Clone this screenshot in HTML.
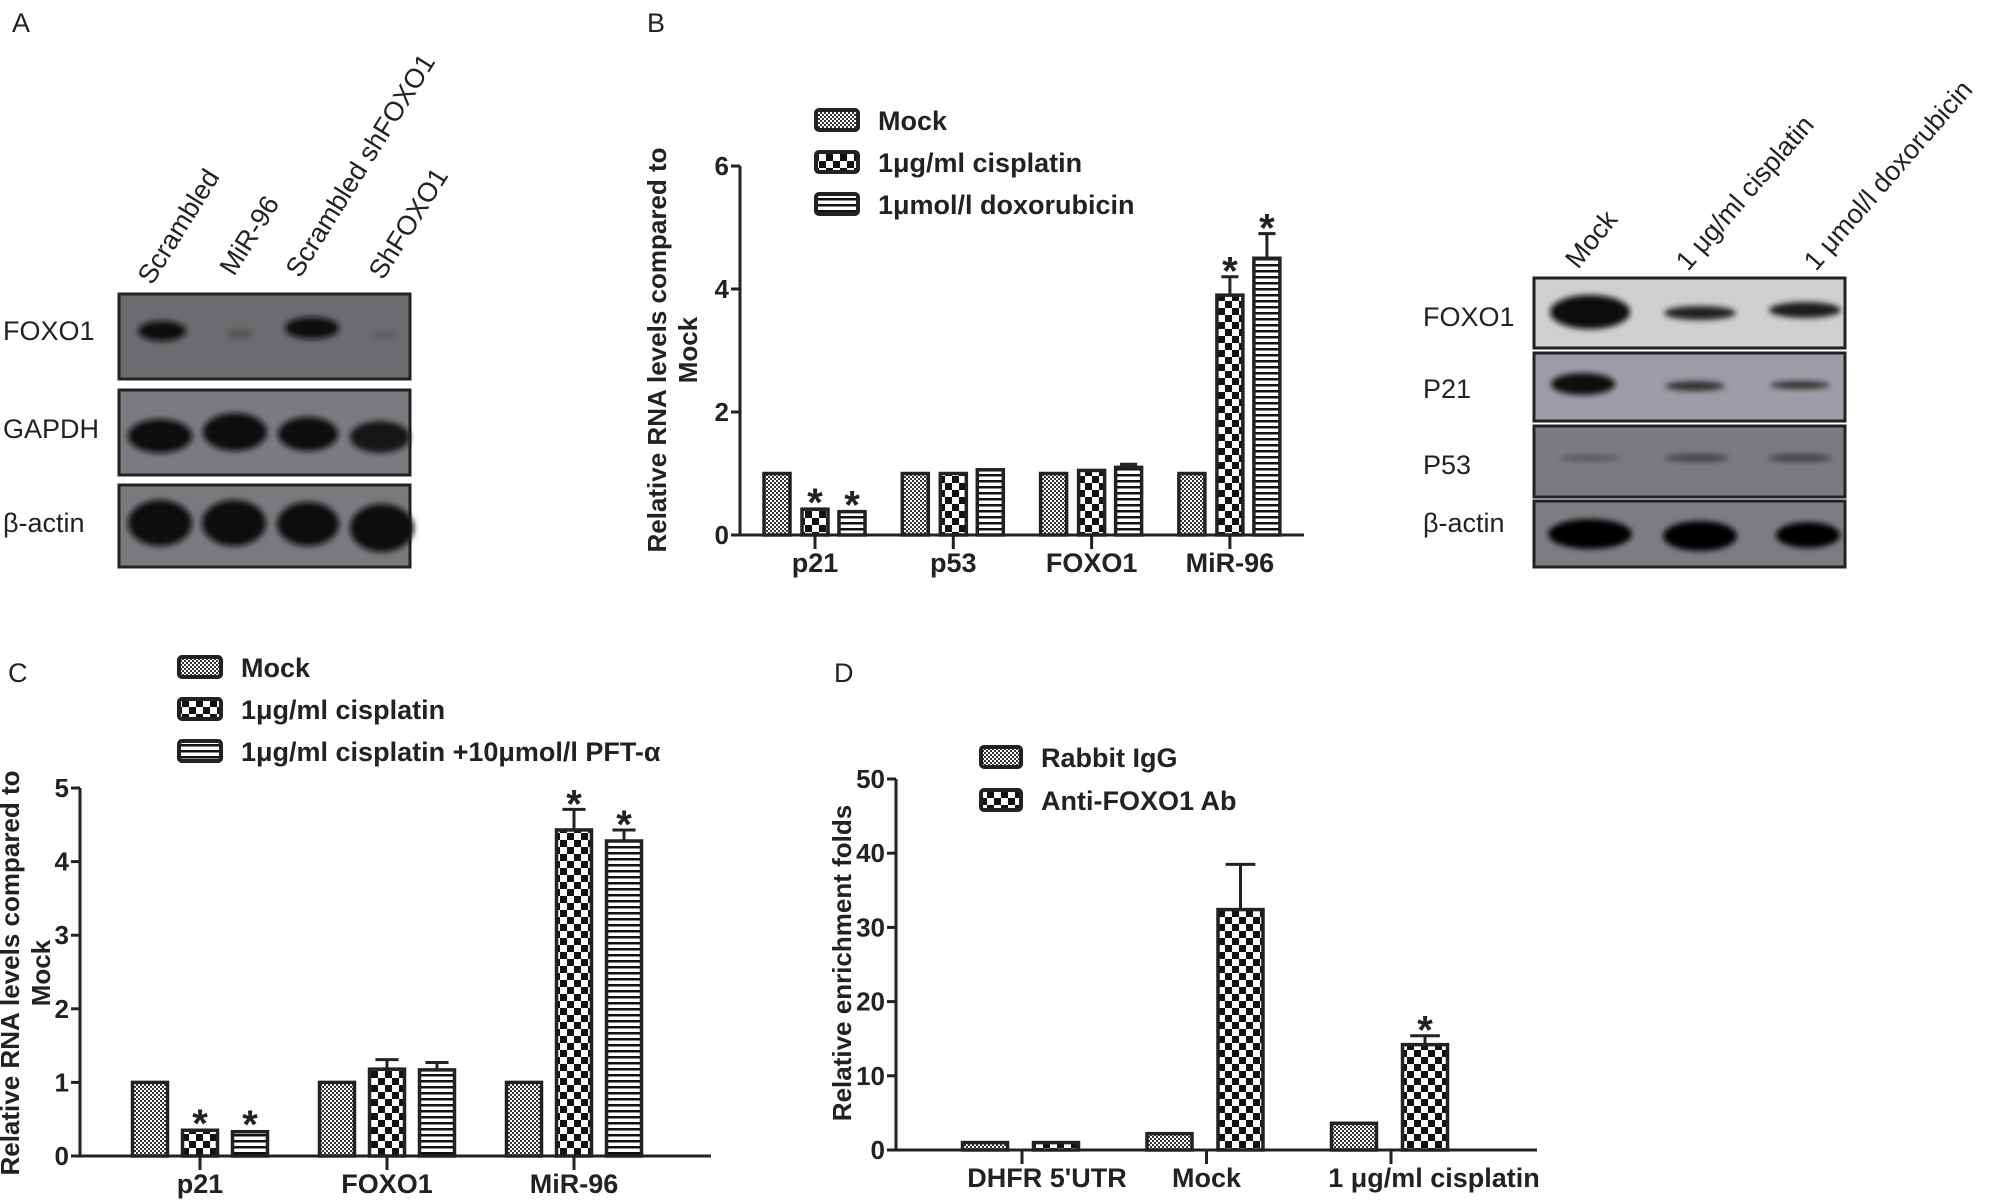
<!DOCTYPE html>
<html><head><meta charset="utf-8"><style>
html,body{margin:0;padding:0;background:#fff;}
svg{display:block;font-family:"Liberation Sans",Arial,sans-serif;}
.t{font-weight:bold;fill:#222;}
.n{fill:#222;font-size:27px;}
</style></head><body>
<svg id="fig" width="2008" height="1204" viewBox="0 0 2008 1204">
<defs>
<pattern id="pMock" width="4" height="4" patternUnits="userSpaceOnUse"><rect width="4" height="4" fill="#fff"/><rect width="2" height="2" fill="#333"/><rect x="2" y="2" width="2" height="2" fill="#333"/></pattern>
<pattern id="pCis" width="14" height="14" patternUnits="userSpaceOnUse"><rect width="14" height="14" fill="#fff"/><rect width="7" height="7" fill="#111"/><rect x="7" y="7" width="7" height="7" fill="#111"/></pattern>
<pattern id="pStr" width="6" height="6" patternUnits="userSpaceOnUse"><rect width="6" height="6" fill="#fff"/><rect width="6" height="2.5" fill="#111"/></pattern>
<filter id="blur2" x="-50%" y="-50%" width="200%" height="200%"><feGaussianBlur stdDeviation="3"/></filter>
</defs>

<!-- Panel A -->
<text x="12" y="32" class="n">A</text>
<g>
<text class="n" font-size="29" transform="translate(152,286) rotate(-58)">Scrambled</text>
<text class="n" font-size="29" transform="translate(234,277) rotate(-58)">MiR-96</text>
<text class="n" font-size="29" transform="translate(300,279) rotate(-58)">Scrambled shFOXO1</text>
<text class="n" font-size="29" transform="translate(383,281) rotate(-58)">ShFOXO1</text>
</g>
<g>
<rect x="119" y="294" width="291" height="85" fill="#6c6c70" stroke="#222" stroke-width="3"/>
<rect x="119" y="390" width="291" height="85" fill="#7a7b80" stroke="#222" stroke-width="3"/>
<rect x="119" y="485" width="291" height="82" fill="#787a7e" stroke="#222" stroke-width="3"/>
<ellipse cx="162" cy="331" rx="24" ry="10" fill="#111" filter="url(#blur2)"/>
<ellipse cx="240" cy="334" rx="14" ry="5" fill="#555" filter="url(#blur2)"/>
<ellipse cx="312" cy="328" rx="27" ry="11" fill="#111" filter="url(#blur2)"/>
<ellipse cx="386" cy="335" rx="14" ry="4" fill="#5e5e62" filter="url(#blur2)"/>
<ellipse cx="160" cy="436" rx="32" ry="17" fill="#111" filter="url(#blur2)"/>
<ellipse cx="235" cy="432" rx="32" ry="19" fill="#111" filter="url(#blur2)"/>
<ellipse cx="308" cy="434" rx="30" ry="17" fill="#111" filter="url(#blur2)"/>
<ellipse cx="380" cy="437" rx="30" ry="16" fill="#151515" filter="url(#blur2)"/>
<ellipse cx="160" cy="523" rx="32" ry="23" fill="#0a0a0a" filter="url(#blur2)"/>
<ellipse cx="234" cy="523" rx="32" ry="23" fill="#0a0a0a" filter="url(#blur2)"/>
<ellipse cx="308" cy="524" rx="31" ry="22" fill="#0a0a0a" filter="url(#blur2)"/>
<ellipse cx="382" cy="528" rx="32" ry="24" fill="#0a0a0a" filter="url(#blur2)"/>
</g>
<text x="3" y="340" class="n">FOXO1</text>
<text x="3" y="438" class="n">GAPDH</text>
<text x="3" y="532" class="n">β-actin</text>

<!-- Panel B blot -->
<g>
<text class="n" transform="translate(1578,270) rotate(-51)">Mock</text>
<text class="n" transform="translate(1688,272) rotate(-49)">1 μg/ml cisplatin</text>
<text class="n" transform="translate(1816,272) rotate(-49)">1 μmol/l doxorubicin</text>
</g>
<g>
<rect x="1534" y="278" width="311" height="70" fill="#cfcfcf" stroke="#222" stroke-width="3"/>
<rect x="1534" y="353" width="311" height="68" fill="#9c9da6" stroke="#222" stroke-width="3"/>
<rect x="1534" y="426" width="311" height="71" fill="#7a7b80" stroke="#222" stroke-width="3"/>
<rect x="1534" y="501" width="311" height="66" fill="#7c7d82" stroke="#222" stroke-width="3"/>
<ellipse cx="1590" cy="312" rx="40" ry="17" fill="#0a0a0a" filter="url(#blur2)"/>
<ellipse cx="1700" cy="313" rx="36" ry="7" fill="#222" filter="url(#blur2)"/>
<ellipse cx="1805" cy="310" rx="36" ry="8" fill="#1a1a1a" filter="url(#blur2)"/>
<ellipse cx="1583" cy="384" rx="32" ry="11" fill="#111" filter="url(#blur2)"/>
<ellipse cx="1695" cy="386" rx="30" ry="5" fill="#333" filter="url(#blur2)"/>
<ellipse cx="1800" cy="385" rx="30" ry="4" fill="#333" filter="url(#blur2)"/>
<ellipse cx="1590" cy="458" rx="30" ry="3" fill="#555" filter="url(#blur2)"/>
<ellipse cx="1697" cy="458" rx="32" ry="4" fill="#444" filter="url(#blur2)"/>
<ellipse cx="1800" cy="458" rx="32" ry="4" fill="#444" filter="url(#blur2)"/>
<ellipse cx="1590" cy="534" rx="42" ry="15" fill="#050505" filter="url(#blur2)"/>
<ellipse cx="1700" cy="536" rx="37" ry="15" fill="#050505" filter="url(#blur2)"/>
<ellipse cx="1808" cy="535" rx="32" ry="13" fill="#050505" filter="url(#blur2)"/>
</g>
<text x="1423" y="326" class="n">FOXO1</text>
<text x="1423" y="398" class="n">P21</text>
<text x="1423" y="474" class="n">P53</text>
<text x="1423" y="532" class="n">β-actin</text>

<text x="647" y="32" class="n">B</text>
<text x="8" y="682" class="n">C</text>
<text x="834" y="682" class="n">D</text>
<g id="charts"></g>
</svg>
<script>
// Panel B data
const bCats = ["p21","p53","FOXO1","MiR-96"];
const bMock = [1.0, 1.0, 1.0, 1.0];
const bMockErr = [0.02, 0.02, 0.02, 0.02];
const bCis = [0.42, 1.0, 1.05, 3.9];
const bCisErr = [0.02, 0.02, 0.02, 0.3];
const bDox = [0.38, 1.06, 1.1, 4.5];
const bDoxErr = [0.02, 0.02, 0.05, 0.4];
const bStar = [[false,true,true],[false,false,false],[false,false,false],[false,true,true]];
const bTicks = [0,2,4,6];
const bLegend = ["Mock","1μg/ml cisplatin","1μmol/l doxorubicin"];
// Panel C data
const cCats = ["p21","FOXO1","MiR-96"];
const cMock = [1.0, 1.0, 1.0];
const cMockErr = [0.02, 0.02, 0.02];
const cCis = [0.35, 1.18, 4.43];
const cCisErr = [0.02, 0.13, 0.28];
const cPft = [0.33, 1.17, 4.28];
const cPftErr = [0.02, 0.1, 0.15];
const cStar = [[false,true,true],[false,false,false],[false,true,true]];
const cTicks = [0,1,2,3,4,5];
const cLegend = ["Mock","1μg/ml cisplatin","1μg/ml cisplatin +10μmol/l PFT-α"];
// Panel D data
const dCats = ["DHFR 5'UTR","Mock","1 μg/ml cisplatin"];
const dIgg = [1.0, 2.2, 3.6];
const dIggErr = [0.1, 0.3, 0.4];
const dAnti = [1.0, 32.4, 14.2];
const dAntiErr = [0.1, 6.1, 1.2];
const dStar = [[false,false],[false,false],[false,true]];
const dTicks = [0,10,20,30,40,50];
const dLegend = ["Rabbit IgG","Anti-FOXO1 Ab"];

const NS="http://www.w3.org/2000/svg";
const root=document.getElementById('charts');
function mk(tag,attrs,parent,txt){const e=document.createElementNS(NS,tag);for(const k in attrs)e.setAttribute(k,attrs[k]);if(txt!==undefined)e.textContent=txt;(parent||root).appendChild(e);return e;}

function chart(o){
  const g=mk('g',{},o.parent);
  
  
  const y=v=>o.y0-(v-o.ymin)/(o.ymax-o.ymin)*(o.y0-o.ytop);
  const gx=i=>o.gx0+i*o.gdx;
  const ya=mk('line',{x1:o.x0,y1:o.y0,x2:o.x0,y2:o.ytop,stroke:'#222','stroke-width':3},g);
  
  
  const xa=mk('line',{x1:o.x0-9,y1:o.y0,x2:o.xend,y2:o.y0,stroke:'#222','stroke-width':3},g);
  
  
  o.ticks.forEach(t=>{
    mk('line',{x1:o.x0-9,y1:y(t),x2:o.x0,y2:y(t),stroke:'#222','stroke-width':3},g);
    const tl=mk('text',{x:o.x0-11,y:y(t)+9,'text-anchor':'end',class:'t','font-size':26},g,String(t));
    
    
  });
  o.cats.forEach((c,i)=>{
    mk('line',{x1:gx(i),y1:o.y0,x2:gx(i),y2:o.y0+14,stroke:'#222','stroke-width':3},g);
    const cl=mk('text',{x:gx(i)+(o.catShift?o.catShift[i]:0),y:o.labY,'text-anchor':'middle',class:'t','font-size':27},g,c);
    
    
    o.series.forEach((s,j)=>{
      const v=s.vals[i], e=s.errs[i];
      const cx=gx(i)+o.offs[j];
      const top=y(v);
      if(e/(o.ymax-o.ymin)>0.008){
        mk('line',{x1:cx,y1:top,x2:cx,y2:y(v+e),stroke:'#222','stroke-width':3},g);
        mk('line',{x1:cx-o.bw*0.33,y1:y(v+e),x2:cx+o.bw*0.33,y2:y(v+e),stroke:'#222','stroke-width':3},g);
      }
      const r=mk('rect',{x:cx-o.bw/2,y:top,width:o.bw,height:o.y0-top,fill:'url(#'+s.pat+')',stroke:'#222','stroke-width':3.5},g);
      
      
      if(o.stars[i][j]){
        const st=mk('text',{x:cx,y:y(v+e)+8,'text-anchor':'middle',class:'t','font-size':40},g,'*');
        
        
      }
    });
  });
  const yl=mk('text',{transform:'translate('+o.ylx+','+o.ylc+') rotate(-90)','text-anchor':'middle',class:'t','font-size':26},g,o.ylabel[0]);
  
  
  if(o.ylabel[1]){
    const yl2=mk('text',{transform:'translate('+(o.ylx+31)+','+o.ylc+') rotate(-90)','text-anchor':'middle',class:'t','font-size':26},g,o.ylabel[1]);
    
    
  }
  o.legend.forEach((l,j)=>{
    const ly=o.ly0+j*o.ldy;
    const lg=mk('g',{},g);
    
    
    mk('rect',{x:o.lx,y:ly-10,width:o.lw,height:20,rx:3,fill:'url(#'+o.series[j].pat+')',stroke:'#222','stroke-width':4},lg);
    mk('text',{x:o.lx+o.lw+20,y:ly+10,class:'t','font-size':27},lg,l);
  });
  return g;
}

chart({name:'chart-b',cats:bCats,series:[{vals:bMock,errs:bMockErr,pat:'pMock'},{vals:bCis,errs:bCisErr,pat:'pCis'},{vals:bDox,errs:bDoxErr,pat:'pStr'}],
 stars:bStar,ticks:bTicks,ymin:0,ymax:6,x0:740,y0:535,ytop:166,xend:1304,gx0:815,gdx:138.3,offs:[-38,0,37],bw:26,labY:572,
 ylabel:['Relative RNA levels compared to','Mock'],ylx:666,ylc:350,legend:bLegend,lx:816,lw:42,ly0:120,ldy:42});

chart({name:'chart-c',cats:cCats,series:[{vals:cMock,errs:cMockErr,pat:'pMock'},{vals:cCis,errs:cCisErr,pat:'pCis'},{vals:cPft,errs:cPftErr,pat:'pStr'}],
 stars:cStar,ticks:cTicks,ymin:0,ymax:5,x0:80,y0:1156,ytop:788,xend:711,gx0:200,gdx:187,offs:[-50,0,50],bw:35,labY:1193,
 ylabel:['Relative RNA levels compared to','Mock'],ylx:19,ylc:973,legend:cLegend,lx:179,lw:42,ly0:667,ldy:42});

const svgD=mk('svg',{x:0,y:0,width:1542,height:1204,overflow:'hidden'});


chart({parent:svgD,name:'chart-d',cats:dCats,series:[{vals:dIgg,errs:dIggErr,pat:'pMock'},{vals:dAnti,errs:dAntiErr,pat:'pCis'}],
 stars:dStar,ticks:dTicks,ymin:0,ymax:50,x0:896,y0:1150,ytop:779,xend:1537,gx0:1022,gdx:184.5,offs:[-37,34],bw:45,catShift:[25,0,43],labY:1187,
 ylabel:['Relative enrichment folds'],ylx:851,ylc:963,legend:dLegend,lx:981,lw:40,ly0:757,ldy:43});
</script>
</body></html>
